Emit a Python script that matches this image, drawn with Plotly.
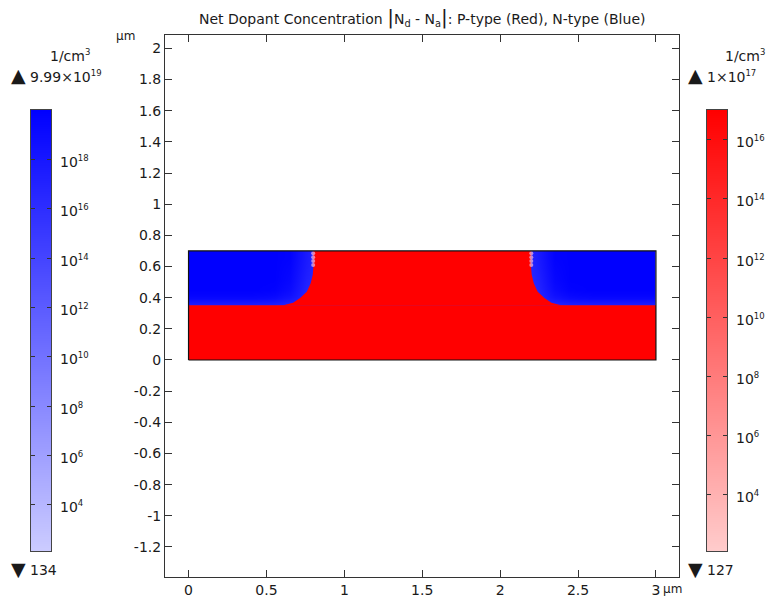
import plotly.graph_objects as go

W, H = 766, 598
FONT = "DejaVu Sans"
INK = "#1a1a1a"

# Main axes ticks
x_ticks = [0, 0.5, 1, 1.5, 2, 2.5, 3]
x_labels = ["0", "0.5", "1", "1.5", "2", "2.5", "3"]
y_ticks = [2, 1.8, 1.6, 1.4, 1.2, 1, 0.8, 0.6, 0.4, 0.2, 0, -0.2, -0.4, -0.6, -0.8, -1, -1.2]
y_labels = ["2", "1.8", "1.6", "1.4", "1.2", "1", "0.8", "0.6", "0.4", "0.2", "0",
            "-0.2", "-0.4", "-0.6", "-0.8", "-1", "-1.2"]

# Device outline (um)
device_x = [0, 3, 3, 0, 0]
device_y = [0, 0, 0.7, 0.7, 0]

# N-type field: log10 concentration, cell edges in um
n_x_edges = [0, 0.3, 0.5, 0.6, 0.7, 0.8, 2.2, 2.3, 2.4, 2.5, 2.7, 3]
n_y_edges = [0.35, 0.38, 0.42, 0.48, 0.55, 0.62, 0.7]
n_log_conc = [
    [17.8, 17.8, 17.6, 17.0, 16.5, 16.0, 16.5, 17.0, 17.6, 17.8, 17.8],
    [19.3, 19.3, 19.0, 18.2, 16.8, 16.0, 16.8, 18.2, 19.0, 19.3, 19.3],
    [20.0, 20.0, 19.8, 19.0, 17.0, 16.0, 17.0, 19.0, 19.8, 20.0, 20.0],
    [20.0, 20.0, 20.0, 19.4, 17.3, 16.0, 17.3, 19.4, 20.0, 20.0, 20.0],
    [20.0, 20.0, 20.0, 19.6, 17.6, 16.0, 17.6, 19.6, 20.0, 20.0, 20.0],
    [20.0, 20.0, 20.0, 19.8, 17.8, 16.0, 17.8, 19.8, 20.0, 20.0, 20.0],
]

# P-type outlines (um)
p_base_x = [0, 3, 3, 0, 0]
p_base_y = [0, 0, 0.351, 0.351, 0]
p_mid_x = [0.54, 0.608, 0.671, 0.716, 0.759, 0.784, 0.797, 0.801, 0.80,
           2.20, 2.199, 2.203, 2.216, 2.241, 2.284, 2.329, 2.392, 2.46]
p_mid_y = [0.35, 0.351, 0.368, 0.398, 0.438, 0.492, 0.546, 0.59, 0.70,
           0.70, 0.59, 0.546, 0.492, 0.438, 0.398, 0.368, 0.351, 0.35]

# Light mesh spots along the top of the junction
spot_x = [0.8, 0.8, 0.8, 0.8, 2.2, 2.2, 2.2, 2.2]
spot_y = [0.685, 0.66, 0.635, 0.61, 0.685, 0.66, 0.635, 0.61]

# Colour bars
n_range = [2.127, 20.0]
p_range = [2.104, 17.0]
n_bar_ticks = [4, 6, 8, 10, 12, 14, 16, 18]
p_bar_ticks = [4, 6, 8, 10, 12, 14, 16]

blue_scale = [[0, "rgb(204,204,255)"], [1, "rgb(0,0,255)"]]
red_scale = [[0, "rgb(255,204,204)"], [1, "rgb(255,0,0)"]]


def px_x(a, b):
    return [a / W, b / W]


def px_y(top, bottom):
    return [(H - bottom) / H, (H - top) / H]


def sup(text):
    return f"<sup><span style='font-size:8.5px'>{text}</span></sup>"


fig = go.Figure()

fig.add_trace(go.Heatmap(x=n_x_edges, y=n_y_edges, z=n_log_conc, zsmooth="best",
                         colorscale=blue_scale, zmin=n_range[0], zmax=n_range[1],
                         showscale=False, hoverinfo="skip", name="N-type"))
fig.add_trace(go.Scatter(x=p_base_x, y=p_base_y, mode="lines",
                         fill="toself", fillcolor="rgb(255,0,0)", line=dict(width=0),
                         showlegend=False, name="P-type base"))
fig.add_trace(go.Scatter(x=p_mid_x, y=p_mid_y, mode="lines", fill="toself",
                         fillcolor="rgb(255,0,0)", line=dict(width=0),
                         showlegend=False, name="P-type"))
fig.add_trace(go.Scatter(x=spot_x, y=spot_y, mode="markers",
                         marker=dict(size=4, color="rgba(235,175,215,0.75)", line=dict(width=0)),
                         showlegend=False, name="spots"))
fig.add_trace(go.Scatter(x=device_x, y=device_y, mode="lines",
                         line=dict(color="#111111", width=1.2),
                         showlegend=False, name="device"))

# Colour bars as gradient strips on their own axes
fig.add_trace(go.Heatmap(x=[0, 1], y=n_range, z=[[n_range[0]] * 2, [n_range[1]] * 2],
                         zsmooth="best", colorscale=blue_scale, zmin=n_range[0], zmax=n_range[1],
                         showscale=False, xaxis="x2", yaxis="y2", hoverinfo="skip"))
fig.add_trace(go.Heatmap(x=[0, 1], y=p_range, z=[[p_range[0]] * 2, [p_range[1]] * 2],
                         zsmooth="best", colorscale=red_scale, zmin=p_range[0], zmax=p_range[1],
                         showscale=False, xaxis="x3", yaxis="y3", hoverinfo="skip"))

axis_common = dict(showgrid=False, zeroline=False, showline=True, linecolor="#333333",
                   linewidth=1, mirror="ticks", ticks="inside", tickcolor="#333333",
                   tickwidth=1, tickfont=dict(family=FONT, size=14, color=INK))
bar_common = dict(showgrid=False, zeroline=False, showline=True, linecolor="#444444",
                  linewidth=1, mirror=True)

fig.update_layout(
    width=W, height=H, margin=dict(l=0, r=0, t=0, b=0, autoexpand=False),
    paper_bgcolor="white", plot_bgcolor="white", showlegend=False,
    font=dict(family=FONT, size=14, color=INK),
    xaxis=dict(axis_common, domain=px_x(165, 679), range=[-0.151, 3.148], tickvals=x_ticks,
               ticktext=x_labels, ticklen=7, anchor="y"),
    yaxis=dict(axis_common, domain=px_y(35, 577), range=[-1.393, 2.086], tickvals=y_ticks,
               ticktext=y_labels, ticklen=7, anchor="x"),
    xaxis2=dict(bar_common, domain=px_x(31, 51), range=[0, 1], showticklabels=False,
                ticks="", anchor="y2"),
    yaxis2=dict(bar_common, domain=px_y(110, 551), range=n_range, side="right", anchor="x2",
                tickvals=n_bar_ticks, showticklabels=False, ticks="inside", ticklen=4,
                tickcolor="#333333", mirror="ticks"),
    xaxis3=dict(bar_common, domain=px_x(707, 727), range=[0, 1], showticklabels=False,
                ticks="", anchor="y3"),
    yaxis3=dict(bar_common, domain=px_y(110, 551), range=p_range, side="right", anchor="x3",
                tickvals=p_bar_ticks, showticklabels=False, ticks="inside", ticklen=4,
                tickcolor="#333333", mirror="ticks"),
)


def note(text, x, y, anchor="left", size=14):
    fig.add_annotation(text=text, x=x / W, y=(H - y) / H, xref="paper", yref="paper",
                       xanchor=anchor, yanchor="middle", showarrow=False,
                       font=dict(family=FONT, size=size, color=INK))


def bar_labels(ticks, xref, yref):
    for t in ticks:
        fig.add_annotation(text="10" + sup(t), x=1, y=t, xref=xref, yref=yref, xanchor="left",
                           yanchor="middle", xshift=7, yshift=-2, showarrow=False,
                           font=dict(family=FONT, size=14, color=INK))


bar_labels(n_bar_ticks, "x2", "y2")
bar_labels(p_bar_ticks, "x3", "y3")

note("Net Dopant Concentration <span style='font-size:20px'>|</span>N<sub>d</sub> - N<sub>a</sub>"
     "<span style='font-size:20px'>|</span>: P-type (Red), N-type (Blue)", 422, 17, "center", 14)
note("µm", 125, 36, "center", 12)
note("µm", 672, 589, "center", 12)

note("1/cm" + sup(3), 92, 55, "right")
note("▲", 18, 75, "center", 19)
note("9.99×10" + sup(19), 28, 76)
note("▼", 18, 569, "center", 19)
note("134", 28, 570)

note("1/cm" + sup(3), 767, 55, "right")
note("▲", 695, 75, "center", 19)
note("1×10" + sup(17), 705, 76)
note("▼", 695, 569, "center", 19)
note("127", 705, 570)

fig.write_html("out.html", config={"displayModeBar": False},
               post_script="document.body.style.margin='0';document.body.style.overflow='hidden';")
